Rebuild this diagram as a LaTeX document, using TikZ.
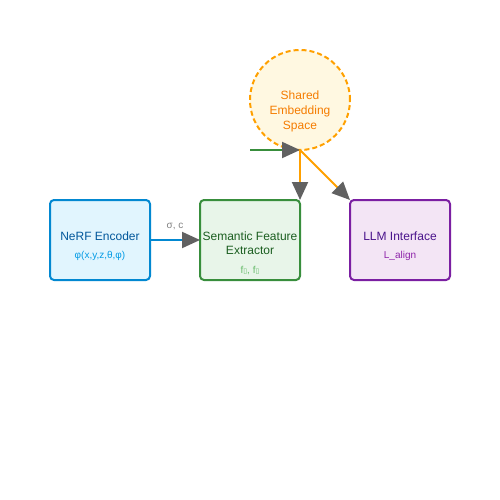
\documentclass[tikz,border=0pt]{standalone}
\usepackage{fontspec}
\setmainfont{Liberation Sans}
\newfontfamily\symfont{DejaVu Sans}
\usetikzlibrary{arrows.meta, positioning}

\definecolor{nerfline}{HTML}{0288D1}
\definecolor{nerffill}{HTML}{E1F5FE}
\definecolor{nerftext}{HTML}{01579B}
\definecolor{nerfsub}{HTML}{039BE5}
\definecolor{semline}{HTML}{388E3C}
\definecolor{semfill}{HTML}{E8F5E9}
\definecolor{semtext}{HTML}{1B5E20}
\definecolor{semsub}{HTML}{66BB6A}
\definecolor{llmline}{HTML}{7B1FA2}
\definecolor{llmfill}{HTML}{F3E5F5}
\definecolor{llmtext}{HTML}{4A148C}
\definecolor{llmsub}{HTML}{8E24AA}
\definecolor{embline}{HTML}{FFA000}
\definecolor{embfill}{HTML}{FFF8E1}
\definecolor{embtext}{HTML}{F57C00}
\definecolor{tipgray}{HTML}{616161}

\begin{document}
\begin{tikzpicture}[x=1pt, y=-1pt]
    \tikzset{
        module/.style = {rectangle, rounded corners=4pt, draw, line width=2pt, minimum width=100pt, minimum height=80pt, inner sep=0pt, outer sep=0pt},
        space/.style = {circle, draw=embline, fill=embfill, dashed, dash pattern=on 5pt off 3pt, line width=2pt, minimum size=100pt, inner sep=0pt, outer sep=0pt},
        title/.style = {font=\fontsize{12}{14}\selectfont, align=center, inner sep=0pt},
        sub/.style = {font=\fontsize{10}{12}\selectfont, inner sep=0pt},
        line/.style = {draw, line width=2pt, -{Triangle[length=18pt, width=16pt, color=tipgray, fill=tipgray]}}
    }
    \useasboundingbox (0,0) rectangle (500,500);

    \node[module, draw=nerfline, fill=nerffill] (nerf) at (100,240) {};
    \node[module, draw=semline, fill=semfill] (sem) at (250,240) {};
    \node[module, draw=llmline, fill=llmfill] (llm) at (400,240) {};
    \node[space] (emb) at (300,100) {};

    \node[title, text=nerftext] (nerftitle) at (100,236) {NeRF Encoder};
    \node[sub, text=nerfsub] (nerfsub) at (100,256) {φ(x,y,z,θ,φ)};
    \node[title, text=semtext] (semtitle) at (250,243) {Semantic Feature\\Extractor};
    \node[sub, text=semsub] (semsub) at (250,271) {f{\symfont\fontsize{7}{8}\selectfont ▯}, f{\symfont\fontsize{7}{8}\selectfont ▯}};
    \node[title, text=llmtext] (llmtitle) at (400,236) {LLM Interface};
    \node[sub, text=llmsub] (llmsub) at (400,256) {L\_align};
    \node[title, text=embtext, font=\fontsize{12}{15}\selectfont] (embtitle) at (300,111) {Shared\\Embedding\\Space};

    \coordinate (semin) at (250,150);
    \node[sub, text=gray] (sigma) at (175,226) {σ, c};

    \path[line, nerfline] (nerf.east) -- (sem.west);
    \path[line, semline] (semin) -- (emb.south);
    \path[line, embline] (emb.south) -- (sem.north east);
    \path[line, embline] (emb.south) -- (llm.north west);
\end{tikzpicture}
\end{document}
